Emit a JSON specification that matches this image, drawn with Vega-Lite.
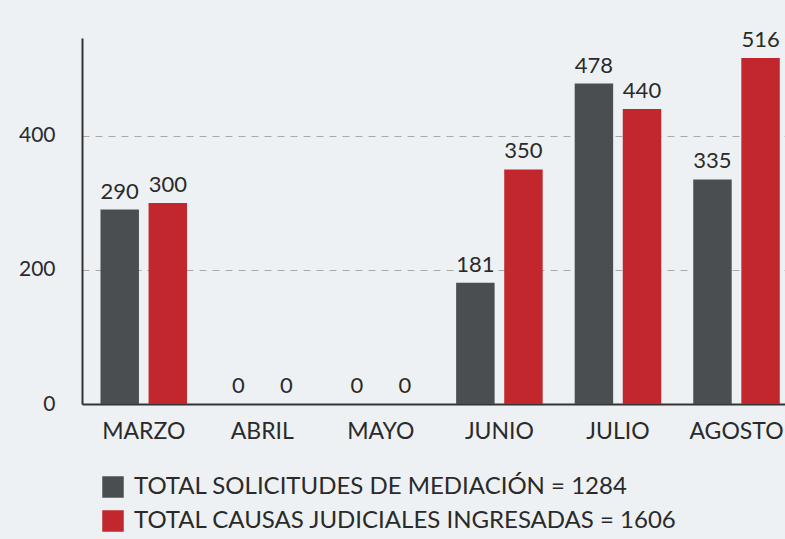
{
  "$schema": "https://vega.github.io/schema/vega-lite/v6.json",
  "autosize": "none",
  "width": 703,
  "height": 366,
  "padding": {"left": 82, "top": 38, "right": 0, "bottom": 135},
  "background": "#eef1f3",
  "config": {
    "view": {"stroke": null},
    "font": "Lato",
    "text": {"font": "Lato"}
  },
  "data": {
    "values": [
      {"mes": "MARZO", "serie": "TOTAL SOLICITUDES DE MEDIACIÓN = 1284", "valor": 290},
      {"mes": "MARZO", "serie": "TOTAL CAUSAS JUDICIALES INGRESADAS = 1606", "valor": 300},
      {"mes": "ABRIL", "serie": "TOTAL SOLICITUDES DE MEDIACIÓN = 1284", "valor": 0},
      {"mes": "ABRIL", "serie": "TOTAL CAUSAS JUDICIALES INGRESADAS = 1606", "valor": 0},
      {"mes": "MAYO", "serie": "TOTAL SOLICITUDES DE MEDIACIÓN = 1284", "valor": 0},
      {"mes": "MAYO", "serie": "TOTAL CAUSAS JUDICIALES INGRESADAS = 1606", "valor": 0},
      {"mes": "JUNIO", "serie": "TOTAL SOLICITUDES DE MEDIACIÓN = 1284", "valor": 181},
      {"mes": "JUNIO", "serie": "TOTAL CAUSAS JUDICIALES INGRESADAS = 1606", "valor": 350},
      {"mes": "JULIO", "serie": "TOTAL SOLICITUDES DE MEDIACIÓN = 1284", "valor": 478},
      {"mes": "JULIO", "serie": "TOTAL CAUSAS JUDICIALES INGRESADAS = 1606", "valor": 440},
      {"mes": "AGOSTO", "serie": "TOTAL SOLICITUDES DE MEDIACIÓN = 1284", "valor": 335},
      {"mes": "AGOSTO", "serie": "TOTAL CAUSAS JUDICIALES INGRESADAS = 1606", "valor": 516}
    ]
  },
  "encoding": {
    "x": {
      "field": "mes",
      "type": "nominal",
      "sort": ["MARZO", "ABRIL", "MAYO", "JUNIO", "JULIO", "AGOSTO"],
      "scale": {"paddingInner": 0.27, "paddingOuter": 0.1, "align": 0.78},
      "axis": {
        "title": null,
        "labelAngle": 0,
        "labelFontSize": 23,
        "labelColor": "#2a2a2a",
        "labelPadding": 16,
        "ticks": false,
        "domainColor": "#333333",
        "domainWidth": 2
      }
    },
    "xOffset": {
      "field": "serie",
      "type": "nominal",
      "scale": {"domain": ["TOTAL SOLICITUDES DE MEDIACIÓN = 1284", "TOTAL CAUSAS JUDICIALES INGRESADAS = 1606"], "paddingInner": 0.2, "paddingOuter": 0}
    },
    "y": {
      "field": "valor",
      "type": "quantitative",
      "scale": {"domain": [0, 546], "nice": false},
      "axis": {
        "title": null,
        "values": [0, 200, 400],
        "labelFontSize": 21,
        "labelColor": "#2a2a2a",
        "labelPadding": 27,
        "ticks": false,
        "domainColor": "#333333",
        "domainWidth": 2,
        "grid": true,
        "gridColor": "#a8a8a8",
        "gridDash": [7, 6],
        "gridWidth": 1
      }
    }
  },
  "layer": [
    {
      "mark": {"type": "bar"},
      "encoding": {
        "color": {
          "field": "serie",
          "type": "nominal",
          "scale": {
            "domain": ["TOTAL SOLICITUDES DE MEDIACIÓN = 1284", "TOTAL CAUSAS JUDICIALES INGRESADAS = 1606"],
            "range": ["#4a4e50", "#c1272d"]
          },
          "legend": {
            "title": null,
            "orient": "none",
            "legendX": 19,
            "legendY": 437,
            "padding": 0,
            "symbolType": "square",
            "symbolSize": 462,
            "symbolStrokeWidth": 0,
            "labelFontSize": 24,
            "labelColor": "#2a2a2a",
            "labelOffset": 9,
            "rowPadding": 10,
            "labelLimit": 0
          }
        }
      }
    },
    {
      "mark": {"type": "text", "fontSize": 22, "baseline": "alphabetic", "dy": -11, "color": "#2a2a2a"},
      "encoding": {
        "text": {"field": "valor", "type": "quantitative"}
      }
    }
  ]
}
